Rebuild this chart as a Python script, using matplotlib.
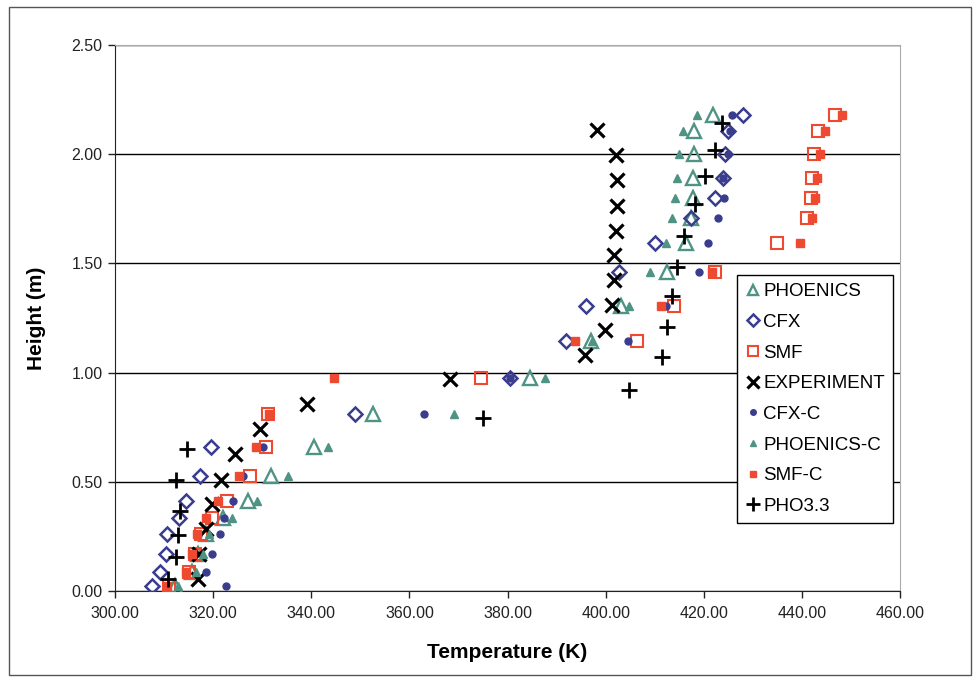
import matplotlib.pyplot as plt
from matplotlib.patches import Rectangle

plt.rcParams['font.family'] = ['Liberation Sans', 'DejaVu Sans']

# common heights of the CFD monitor points (m)
heights = [0.025, 0.085, 0.17, 0.26, 0.335, 0.41, 0.525, 0.66, 0.81, 0.975,
           1.145, 1.305, 1.46, 1.595, 1.71, 1.80, 1.89, 2.00, 2.105, 2.18]

phoenics = [312.2, 315.6, 317.0, 318.5, 322.0, 327.2, 331.8, 340.6, 352.5, 384.6,
            397.0, 403.2, 412.5, 416.4, 417.4, 417.8, 417.7, 418.0, 418.1, 421.8]
cfx = [307.5, 309.2, 310.3, 310.6, 313.1, 314.5, 317.4, 319.5, 349.0, 380.6,
       392.0, 396.0, 402.8, 410.1, 417.3, 422.2, 423.9, 424.4, 425.0, 427.9]
smf = [311.0, 315.0, 316.4, 317.6, 319.8, 322.8, 327.6, 330.8, 331.2, 374.5,
       406.4, 414.0, 422.2, 435.0, 441.0, 441.8, 442.0, 442.4, 443.3, 446.8]
cfx_c = [322.7, 318.5, 319.8, 321.3, 322.3, 324.0, 326.0, 330.2, 363.0, 380.6,
         404.6, 412.2, 419.1, 420.9, 422.9, 424.1, 424.0, 425.0, 425.3, 425.7]
phoenics_c = [312.8, 316.6, 317.9, 319.2, 323.9, 329.0, 335.3, 343.4, 369.1, 387.7,
              397.3, 404.8, 409.1, 412.2, 413.6, 414.1, 414.5, 415.0, 415.8, 418.6]
smf_c = [310.6, 314.4, 315.7, 316.7, 318.5, 321.0, 325.2, 328.8, 331.3, 344.7,
         393.8, 411.3, 421.6, 439.6, 442.0, 442.7, 443.0, 443.6, 444.8, 448.1]

exp_h = [0.055, 0.17, 0.285, 0.40, 0.51, 0.625, 0.74, 0.855, 0.97, 1.08,
         1.195, 1.31, 1.425, 1.54, 1.65, 1.765, 1.88, 1.995, 2.11]
exp_t = [317.0, 317.2, 318.5, 319.8, 321.7, 324.5, 329.6, 339.1, 368.2, 395.7,
         399.9, 401.2, 401.8, 401.8, 402.2, 402.4, 402.4, 402.2, 398.3]

pho33_h = [0.055, 0.155, 0.255, 0.365, 0.51, 0.65, 0.79, 0.92, 1.07, 1.21,
           1.35, 1.485, 1.625, 1.77, 1.90, 2.02, 2.145]
pho33_t = [310.9, 312.5, 312.8, 313.2, 312.5, 314.7, 375.1, 404.7, 411.4, 412.4,
           413.5, 414.5, 416.0, 418.3, 420.2, 422.2, 423.7]

teal = '#4f9384'
navy = '#3a3d8e'
red = '#ee4a32'

fig = plt.figure(figsize=(9.78, 6.8), dpi=100)
ax = fig.add_axes([0.1176, 0.1309, 0.8027, 0.8029])

# outer chart frame
fig.patches.append(Rectangle((0.009, 0.008), 0.984, 0.982, transform=fig.transFigure,
                             fill=False, edgecolor='#555555', linewidth=1.0))

ax.plot(phoenics, heights, ls='none', marker='^', ms=9.5, mfc='none', mec=teal, mew=1.7,
        label='PHOENICS', zorder=3)
ax.plot(cfx, heights, ls='none', marker='D', ms=7.5, mfc='none', mec=navy, mew=1.8,
        label='CFX', zorder=3)
ax.plot(smf, heights, ls='none', marker='s', ms=9, mfc='none', mec=red, mew=1.5,
        label='SMF', zorder=3)
ax.plot(exp_t, exp_h, ls='none', marker='x', ms=10, mec='black', mew=2.3,
        label='EXPERIMENT', zorder=4)
ax.plot(cfx_c, heights, ls='none', marker='o', ms=5, mfc=navy, mec=navy,
        label='CFX-C', zorder=4)
ax.plot(phoenics_c, heights, ls='none', marker='^', ms=6, mfc=teal, mec=teal,
        label='PHOENICS-C', zorder=4)
ax.plot(smf_c, heights, ls='none', marker='s', ms=6, mfc=red, mec=red,
        label='SMF-C', zorder=4)
ax.plot(pho33_t, pho33_h, ls='none', marker='+', ms=12, mec='black', mew=2.0,
        label='PHO3.3', zorder=5)

ax.set_xlim(300, 460)
ax.set_ylim(0, 2.5)
ax.set_xticks(range(300, 461, 20))
ax.set_xticklabels([f'{v:.2f}' for v in range(300, 461, 20)])
ax.set_yticks([0, 0.5, 1.0, 1.5, 2.0, 2.5])
ax.set_yticklabels(['0.00', '0.50', '1.00', '1.50', '2.00', '2.50'])
ax.tick_params(labelsize=11.5, length=5, width=1, direction='out', colors='#222222')
ax.tick_params(axis='x', pad=6)
ax.tick_params(axis='y', pad=4)

ax.grid(axis='y', color='black', linewidth=1.0)
ax.set_axisbelow(True)
for s in ['top', 'right']:
    ax.spines[s].set_color('#aaaaaa')
ax.spines['left'].set_color('#222222')
ax.spines['bottom'].set_color('#222222')

ax.set_xlabel('Temperature (K)', fontsize=15, fontweight='bold', labelpad=16)
ax.set_ylabel('Height (m)', fontsize=15, fontweight='bold', labelpad=18)

leg = ax.legend(loc='upper left', bbox_to_anchor=(0.792, 0.579), borderaxespad=0,
                fancybox=False, edgecolor='black', framealpha=1, fontsize=13.5,
                handlelength=0.8, handletextpad=0.15, labelspacing=0.72,
                borderpad=0.45, markerscale=0.8)
leg.get_frame().set_linewidth(1.0)
leg.set_zorder(10)

fig.savefig('out.png', dpi=100)
